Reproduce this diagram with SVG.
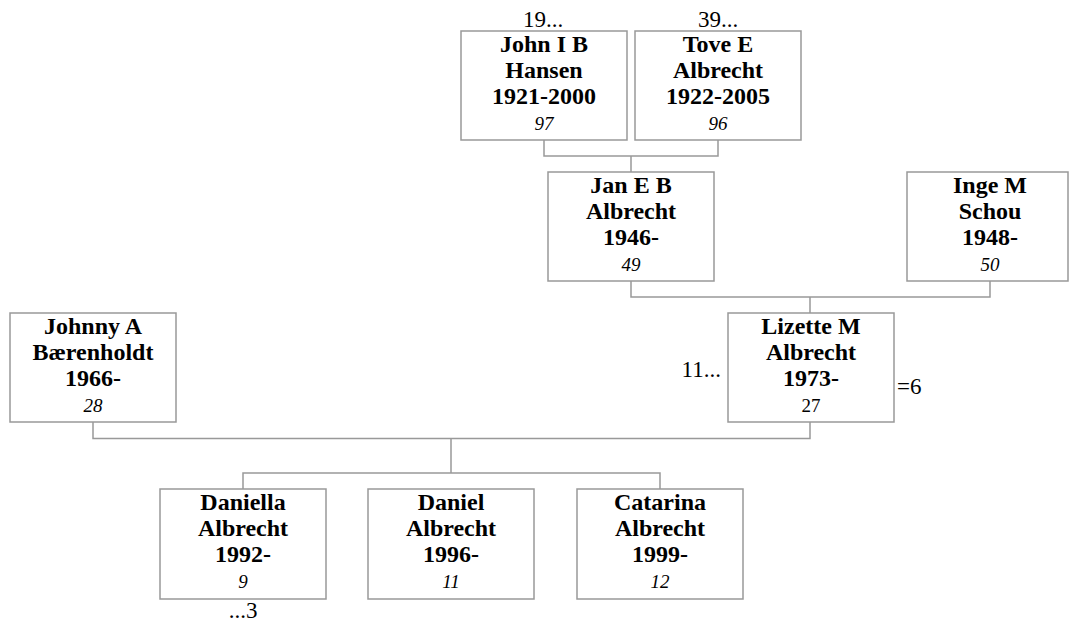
<svg xmlns="http://www.w3.org/2000/svg" width="1069" height="623" viewBox="0 0 1069 623">
<style>
rect.box{fill:#fff;stroke:#999;stroke-width:1.5}
.conn{fill:none;stroke:#999;stroke-width:1.5}
text{font-family:"Liberation Serif","Times New Roman",Times,serif;fill:#000;text-anchor:middle}
.n{font-size:24px;font-weight:bold}
.a{font-size:19px;font-style:italic}
.r{font-size:19px}
.m{font-size:23px}
</style>
<rect width="1069" height="623" fill="#fff"/>
<g id="connectors">
<path class="conn" d="M544 140V156H718V140M631 156V172"/>
<path class="conn" d="M631 281V297H990V281M810 297V313"/>
<path class="conn" d="M93 422V438.5H810V422M451 438.5V473M243 489V473H660V489"/>
</g>
<g id="john">
<rect class="box" x="461" y="31" width="166" height="109"/>
<text class="n" x="544" y="52">John I B</text>
<text class="n" x="544" y="78">Hansen</text>
<text class="n" x="544" y="104">1921-2000</text>
<text class="a" x="544" y="130">97</text>
<text class="m" x="543" y="27">19...</text>
</g>
<g id="tove">
<rect class="box" x="635" y="31" width="166" height="109"/>
<text class="n" x="718" y="52">Tove E</text>
<text class="n" x="718" y="78">Albrecht</text>
<text class="n" x="718" y="104">1922-2005</text>
<text class="a" x="718" y="130">96</text>
<text class="m" x="718" y="27">39...</text>
</g>
<g id="jan">
<rect class="box" x="548" y="172" width="166" height="109"/>
<text class="n" x="631" y="193">Jan E B</text>
<text class="n" x="631" y="219">Albrecht</text>
<text class="n" x="631" y="245">1946-</text>
<text class="a" x="631" y="271">49</text>
</g>
<g id="inge">
<rect class="box" x="907" y="172" width="161" height="109"/>
<text class="n" x="990" y="193">Inge M</text>
<text class="n" x="990" y="219">Schou</text>
<text class="n" x="990" y="245">1948-</text>
<text class="a" x="990" y="271">50</text>
</g>
<g id="johnny">
<rect class="box" x="10" y="313" width="166" height="109"/>
<text class="n" x="93" y="334">Johnny A</text>
<text class="n" x="93" y="360">Bærenholdt</text>
<text class="n" x="93" y="386">1966-</text>
<text class="a" x="93" y="412">28</text>
</g>
<g id="lizette">
<rect class="box" x="728" y="313" width="166" height="109"/>
<text class="n" x="811" y="334">Lizette M</text>
<text class="n" x="811" y="360">Albrecht</text>
<text class="n" x="811" y="386">1973-</text>
<text class="r" x="811" y="412">27</text>
<text class="m" x="721" y="377" style="text-anchor:end">11...</text>
<text class="m" x="897" y="394" style="text-anchor:start">=6</text>
</g>
<g id="daniella">
<rect class="box" x="160" y="489" width="166" height="110"/>
<text class="n" x="243" y="510">Daniella</text>
<text class="n" x="243" y="536">Albrecht</text>
<text class="n" x="243" y="562">1992-</text>
<text class="a" x="243" y="588">9</text>
<text class="m" x="243" y="618">...3</text>
</g>
<g id="daniel">
<rect class="box" x="368" y="489" width="166" height="110"/>
<text class="n" x="451" y="510">Daniel</text>
<text class="n" x="451" y="536">Albrecht</text>
<text class="n" x="451" y="562">1996-</text>
<text class="a" x="451" y="588">11</text>
</g>
<g id="catarina">
<rect class="box" x="577" y="489" width="166" height="110"/>
<text class="n" x="660" y="510">Catarina</text>
<text class="n" x="660" y="536">Albrecht</text>
<text class="n" x="660" y="562">1999-</text>
<text class="a" x="660" y="588">12</text>
</g>
</svg>
